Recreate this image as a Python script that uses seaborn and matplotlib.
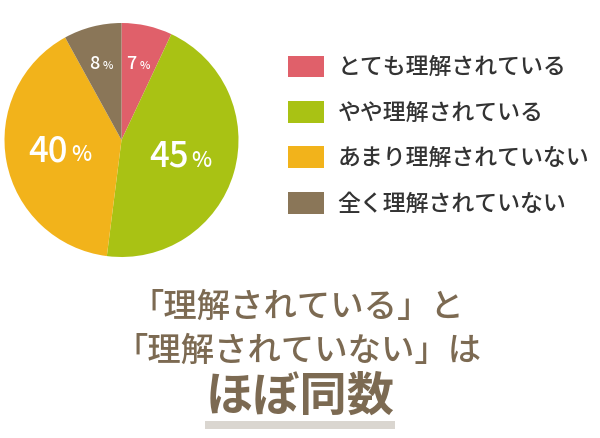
import numpy as np
import matplotlib
matplotlib.use("Agg")
import matplotlib.pyplot as plt
from matplotlib.patches import Rectangle
import seaborn as sns

# survey answers
categories = ["とても理解されている", "やや理解されている", "あまり理解されていない", "全く理解されていない"]
values = [7, 45, 40, 8]
colors = ["#E0606A", "#A9C214", "#F2B31B", "#8A7658"]

line1 = "「理解されている」と"
line2 = "「理解されていない」は"
headline = "ほぼ同数"

sns.set_theme(style="white")
plt.rcParams['font.family'] = ['Noto Sans CJK JP', 'DejaVu Sans']

W, H = 600, 438
fig = plt.figure(figsize=(W / 100, H / 100), dpi=100)
fig.patch.set_facecolor("white")

# pie sits in the upper left block
cx, cy, rad = 121.5, 140, 117
ax = fig.add_axes([(cx - rad) / W, (H - cy - rad) / H, 2 * rad / W, 2 * rad / H])
wedges, _ = ax.pie(values, colors=colors, startangle=90, counterclock=False,
                   radius=1, wedgeprops=dict(linewidth=0))
ax.set_xlim(-1, 1)
ax.set_ylim(-1, 1)
ax.set_aspect("equal")
ax.axis("off")

# percentage labels: number + smaller % sign
for w, v in zip(wedges, values):
    mid = np.deg2rad((w.theta1 + w.theta2) / 2)
    small = v < 10
    r = 0.68 if small else 0.53
    x, y = r * np.cos(mid), r * np.sin(mid)
    fs_num, fs_pct = (13, 8) if small else (25, 15.5)
    drop = -4.7 if small else -6.8
    gap = 0.5 if small else 7.5
    ax.annotate(str(v), (x, y), xytext=(gap - 2, drop), textcoords="offset points",
                ha="right", va="baseline", color="white", fontsize=fs_num,
                fontweight="medium")
    ax.annotate("%", (x, y), xytext=(gap, drop), textcoords="offset points",
                ha="left", va="baseline", color="white", fontsize=fs_pct,
                fontweight="medium")

# legend on the right
fig.legend(wedges, categories, loc="upper left",
           bbox_to_anchor=(288 / W, 1 - 55.5 / H), frameon=False,
           handlelength=1.57, handleheight=1.09,
           handletextpad=0.6, labelspacing=0.95, borderpad=0, borderaxespad=0,
           labelcolor="#333333", prop=dict(size=16.5, weight="medium"))

# conclusion text
txt_color = "#7C6A52"
fig.text(297 / W, 1 - 307 / H, line1, ha="center", va="center",
         fontsize=24, color=txt_color, fontweight="medium")
fig.text(298 / W, 1 - 351 / H, line2, ha="center", va="center",
         fontsize=24, color=txt_color, fontweight="medium")
fig.patches.append(Rectangle((205 / W, 1 - 429 / H), 190 / W, 8 / H,
                             transform=fig.transFigure, color="#DAD6D0",
                             zorder=0, linewidth=0))
fig.text(300 / W, 1 - 397 / H, headline, ha="center", va="center",
         fontsize=34, color=txt_color, fontweight="bold", zorder=2)

fig.savefig("out.png", dpi=100, facecolor="white")
